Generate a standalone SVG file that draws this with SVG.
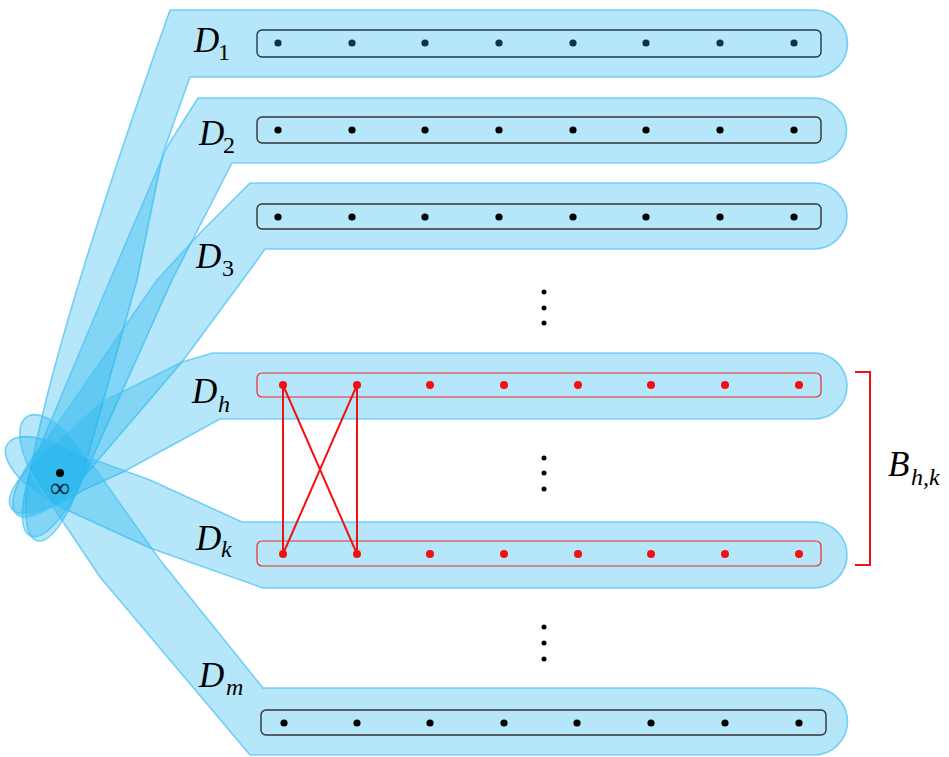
<svg xmlns="http://www.w3.org/2000/svg" width="949" height="757" viewBox="0 0 949 757">
<style>
.band{fill:#1FB3EE;fill-opacity:0.33;stroke:#4FC3F7;stroke-opacity:0.75;stroke-width:1.6;stroke-linejoin:round}
.box{fill:none;stroke:#333;stroke-width:1.4}
.box1{fill:none;stroke:#1E3A48;stroke-width:1.4}
.rbox{fill:none;stroke:#EE2A2A;stroke-width:1.2}
.d1{fill:#0D3345}
.dk{fill:#000}
.rd{fill:#F41010}
.lbl{font-family:"Liberation Serif","Times New Roman",serif;font-style:italic;font-size:35px;fill:#000}
.sub{font-family:"Liberation Serif","Times New Roman",serif;font-size:24px;fill:#000}
.subi{font-family:"Liberation Serif","Times New Roman",serif;font-style:italic;font-size:24px;fill:#000}
.red{stroke:#F41010;stroke-width:2;fill:none}
</style>
<g id="bands">
<path id="band-1" class="band" d="M170,10 L814,10 A33.5,33.5 0 0 1 814,77 L190,77 L163,153 L137,280 L83,473 A82,26 105.7 0 1 33,459 Q58,326 170,10 Z"/>
<path id="band-2" class="band" d="M198,98 L814,98 A32.5,32.5 0 0 1 814,163 L232,163 L172,280 L85,474.1 A78,26 112.8 0 1 37,453.9 L110,280 L167,147 Z"/>
<path id="band-3" class="band" d="M250,183 L814,183 A33,33 0 0 1 814,249 L265,249 L250,270 L182,362 L83.7,477 A72,26 130.9 0 1 44.3,443 L157,280 L200,233 Z"/>
<path id="band-h" class="band" d="M213,353 L814,353 A33,33 0 0 1 814,419 L220,419 L123,472 L80.9,491.3 A68,26 145 0 1 51.1,448.7 L100,403 L182,362 Z"/>
<path id="band-k" class="band" d="M242,522 L814,522 A33,33 0 0 1 814,588 L263,588 L150,548 L49.7,502.1 A66,28 -149.4 0 1 78.3,453.9 L150,480 Z"/>
<path id="band-m" class="band" d="M263,688 L814,688 A33.5,33.5 0 0 1 814,755 L250,755 L100,577 L38.7,485.5 A66,28 -123.7 0 1 85.3,454.5 L160,560 Z"/>
</g>
<g id="D1">
<rect class="box1" x="257" y="30" width="564" height="27" rx="5"/>
<g class="d1"><circle cx="278" cy="43" r="3.6"/><circle cx="352" cy="43" r="3.6"/><circle cx="425" cy="43" r="3.6"/><circle cx="499" cy="43" r="3.6"/><circle cx="573" cy="43" r="3.6"/><circle cx="646" cy="43" r="3.6"/><circle cx="720" cy="43" r="3.6"/><circle cx="794" cy="43" r="3.6"/></g>
<text class="lbl" x="194" y="52">D</text><text class="sub" x="218" y="60">1</text>
</g>
<g id="D2">
<rect class="box" x="257" y="117" width="564" height="26" rx="5"/>
<g class="dk"><circle cx="278" cy="130" r="3.6"/><circle cx="352" cy="130" r="3.6"/><circle cx="425" cy="130" r="3.6"/><circle cx="499" cy="130" r="3.6"/><circle cx="573" cy="130" r="3.6"/><circle cx="646" cy="130" r="3.6"/><circle cx="720" cy="130" r="3.6"/><circle cx="794" cy="130" r="3.6"/></g>
<text class="lbl" x="199" y="145">D</text><text class="sub" x="223" y="153">2</text>
</g>
<g id="D3">
<rect class="box" x="257" y="204" width="564" height="25" rx="5"/>
<g class="dk"><circle cx="278" cy="217" r="3.6"/><circle cx="352" cy="217" r="3.6"/><circle cx="425" cy="217" r="3.6"/><circle cx="499" cy="217" r="3.6"/><circle cx="573" cy="217" r="3.6"/><circle cx="646" cy="217" r="3.6"/><circle cx="720" cy="217" r="3.6"/><circle cx="794" cy="217" r="3.6"/></g>
<text class="lbl" x="196" y="268">D</text><text class="sub" x="222" y="276">3</text>
</g>
<g id="ellipsis-1" class="dk"><circle cx="544" cy="292" r="2.5"/><circle cx="544" cy="308" r="2.5"/><circle cx="544" cy="323" r="2.5"/></g>
<g id="Dh">
<rect class="rbox" x="257" y="373" width="564" height="24" rx="5"/>
<g class="rd"><circle cx="283" cy="385" r="4"/><circle cx="357" cy="385" r="4"/><circle cx="430" cy="385" r="4"/><circle cx="504" cy="385" r="4"/><circle cx="578" cy="385" r="4"/><circle cx="651" cy="385" r="4"/><circle cx="725" cy="385" r="4"/><circle cx="799" cy="385" r="4"/></g>
<text class="lbl" x="192" y="403">D</text><text class="subi" x="218" y="412">h</text>
</g>
<g id="ellipsis-2" class="dk"><circle cx="544" cy="458" r="2.5"/><circle cx="544" cy="473" r="2.5"/><circle cx="544" cy="489" r="2.5"/></g>
<g id="Dk">
<rect class="rbox" x="257" y="541" width="564" height="25" rx="5"/>
<g class="rd"><circle cx="283" cy="554" r="4"/><circle cx="357" cy="554" r="4"/><circle cx="430" cy="554" r="4"/><circle cx="504" cy="554" r="4"/><circle cx="578" cy="554" r="4"/><circle cx="651" cy="554" r="4"/><circle cx="725" cy="554" r="4"/><circle cx="799" cy="554" r="4"/></g>
<text class="lbl" x="196" y="550">D</text><text class="subi" x="221" y="557">k</text>
</g>
<g id="ellipsis-3" class="dk"><circle cx="544" cy="627" r="2.5"/><circle cx="544" cy="643" r="2.5"/><circle cx="544" cy="659" r="2.5"/></g>
<g id="Dm">
<rect class="box" x="261" y="710" width="565" height="25" rx="5"/>
<g class="dk"><circle cx="284" cy="723" r="3.6"/><circle cx="357" cy="723" r="3.6"/><circle cx="430" cy="723" r="3.6"/><circle cx="504" cy="723" r="3.6"/><circle cx="577" cy="723" r="3.6"/><circle cx="651" cy="723" r="3.6"/><circle cx="725" cy="723" r="3.6"/><circle cx="799" cy="723" r="3.6"/></g>
<text class="lbl" x="199" y="687">D</text><text class="subi" x="226" y="695">m</text>
</g>
<g id="infinity">
<circle cx="60" cy="473" r="4" fill="#000"/>
<text x="60" y="497" text-anchor="middle" font-family="Liberation Serif, serif" font-size="28" fill="#0A2A38">∞</text>
</g>
<g id="connectors" class="red">
<line x1="283" y1="385" x2="283" y2="554"/>
<line x1="357" y1="385" x2="357" y2="554"/>
<line x1="283" y1="385" x2="357" y2="554"/>
<line x1="357" y1="385" x2="283" y2="554"/>
</g>
<g id="bracket">
<path class="red" d="M855,372 H870 V565 H855"/>
<text class="lbl" x="888" y="476">B</text><text class="subi" x="911" y="485">h,k</text>
</g>
</svg>
